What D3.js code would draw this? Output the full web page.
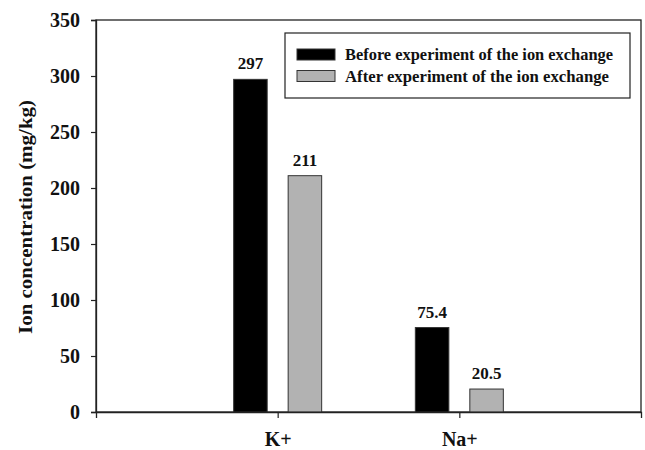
<!DOCTYPE html>
<html>
<head>
<meta charset="utf-8">
<script src="https://cdn.jsdelivr.net/npm/d3@7/dist/d3.min.js"></script>
<style>
  body { margin: 0; background: #fff; }
  svg { display: block; }
  text { font-family: "Liberation Serif", "Times New Roman", serif; font-weight: bold; fill: #111; }
</style>
</head>
<body>
<svg id="chart" width="645" height="450"></svg>
<script>
const categories = ["K+", "Na+"];
const seriesNames = ["Before experiment of the ion exchange", "After experiment of  the ion exchange"];
const beforeValues = [297, 75.4];
const afterValues = [211, 20.5];
const valueLabels = [["297", "211"], ["75.4", "20.5"]];
const yTicks = [0, 50, 100, 150, 200, 250, 300, 350];
const yTitle = "Ion concentration (mg/kg)";

const colors = ["#000000", "#b2b2b2"];
const svg = d3.select("#chart");
const L = 96, R = 641, T = 20, B = 412;

const x = d3.scalePoint().domain(categories).range([L, R]).padding(1);
const xs = d3.scaleBand().domain([0, 1]).range([-44, 44]).paddingInner(0.385).paddingOuter(0);
const y = d3.scaleLinear().domain([0, 350]).range([B, T]);

const data = categories.map((c, i) => ({ cat: c, vals: [beforeValues[i], afterValues[i]], labels: valueLabels[i] }));

// frame
svg.append("rect").attr("x", L).attr("y", T).attr("width", R - L).attr("height", B - T)
  .attr("fill", "none").attr("stroke", "#222").attr("stroke-width", 1.3);

// bars
const g = svg.append("g");
data.forEach(d => {
  d.vals.forEach((v, j) => {
    g.append("rect")
      .attr("x", x(d.cat) + xs(j))
      .attr("y", y(v))
      .attr("width", xs.bandwidth())
      .attr("height", y(0) - y(v))
      .attr("fill", colors[j])
      .attr("stroke", "#333")
      .attr("stroke-width", 1);
    g.append("text")
      .attr("x", x(d.cat) + xs(j) + xs.bandwidth() / 2)
      .attr("y", y(v) - 10)
      .attr("text-anchor", "middle")
      .style("font-size", "17px")
      .text(d.labels[j]);
  });
});

const fontCss = "'Liberation Serif', 'Times New Roman', serif";

// y axis
const yAxis = svg.append("g").attr("transform", `translate(${L},0)`)
  .call(d3.axisLeft(y).tickValues(yTicks).tickSize(5).tickPadding(11).tickFormat(d3.format("d")));
yAxis.select(".domain").attr("stroke", "#222").attr("stroke-width", 1.3);
yAxis.selectAll(".tick line").attr("stroke", "#222").attr("stroke-width", 1.2);
yAxis.selectAll(".tick text").style("font-size", "20px").style("font-family", fontCss).style("font-weight", "bold").attr("fill", "#111");

// x axis
const xAxis = svg.append("g").attr("transform", `translate(0,${B})`)
  .call(d3.axisBottom(x).tickSize(6).tickPadding(14));
xAxis.select(".domain").attr("stroke", "#222").attr("stroke-width", 1.3);
xAxis.selectAll(".tick line").attr("stroke", "#222").attr("stroke-width", 1.2);
xAxis.selectAll(".tick text").style("font-size", "20px").style("font-family", fontCss).style("font-weight", "bold").attr("fill", "#111");

// y title
svg.append("text")
  .attr("transform", `translate(32,${(T + B) / 2 + 1}) rotate(-90)`)
  .attr("text-anchor", "middle")
  .style("font-size", "19.5px")
  .attr("textLength", 234)
  .attr("lengthAdjust", "spacingAndGlyphs")
  .text(yTitle);

// legend
const lg = svg.append("g");
lg.append("rect").attr("x", 285).attr("y", 33).attr("width", 345).attr("height", 65)
  .attr("fill", "#fff").attr("stroke", "#222").attr("stroke-width", 1.2);
seriesNames.forEach((s, i) => {
  lg.append("rect").attr("x", 297).attr("y", 49 + i * 21.5).attr("width", 38).attr("height", 11)
    .attr("fill", colors[i]).attr("stroke", "#333").attr("stroke-width", 1);
  lg.append("text").attr("x", 345).attr("y", 60 + i * 21.5)
    .style("font-size", "16.5px")
    .attr("textLength", i === 0 ? 268 : 264)
    .attr("lengthAdjust", "spacingAndGlyphs")
    .text(s);
});
</script>
</body>
</html>
